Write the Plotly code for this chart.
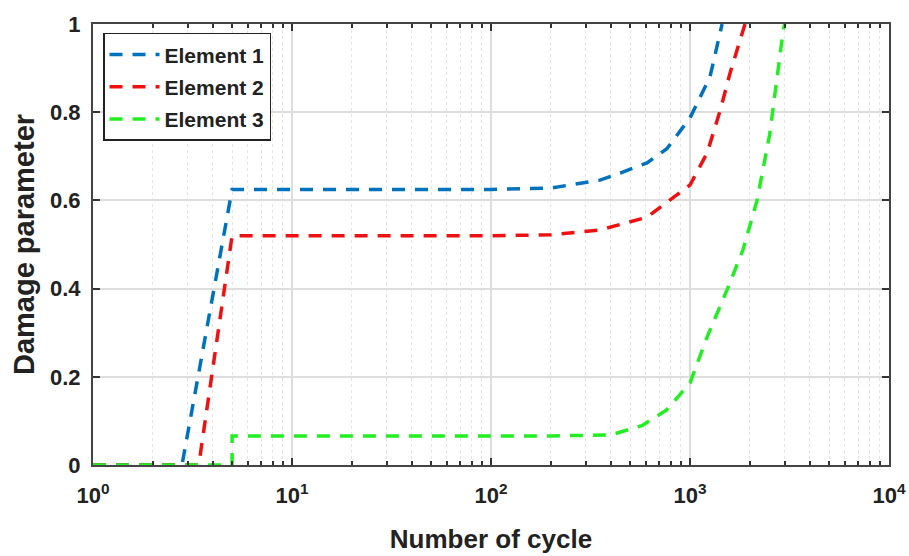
import plotly.graph_objects as go

# Damage evolution vs. number of loading cycles for three elements
cycles_e1 = [1, 2.8, 5, 10, 50, 100, 200, 353, 446, 608, 765, 1000, 1260, 1450]
damage_e1 = [0, 0, 0.625, 0.625, 0.625, 0.625, 0.628, 0.646, 0.662, 0.685, 0.717, 0.787, 0.88, 1.0]

cycles_e2 = [1, 3.4, 5, 10, 50, 100, 200, 353, 608, 794, 1000, 1218, 1420, 1590, 1890]
damage_e2 = [0, 0, 0.52, 0.52, 0.52, 0.52, 0.522, 0.533, 0.562, 0.60, 0.635, 0.707, 0.805, 0.889, 1.0]

cycles_e3 = [1, 5, 5, 10, 50, 100, 200, 400, 578, 763, 1000, 1218, 1535, 1846, 2172, 2515, 2950, 3000]
damage_e3 = [0, 0, 0.066, 0.066, 0.066, 0.066, 0.066, 0.068, 0.09, 0.125, 0.186, 0.29, 0.397, 0.488, 0.60, 0.75, 0.99, 1.0]

series_names = ["Element 1", "Element 2", "Element 3"]
series_colors = ["#0072BD", "#EE1111", "#22EE22"]

x_tick_vals = [1, 10, 100, 1000, 10000]
x_tick_text = ["10<sup>0</sup>", "10<sup>1</sup>", "10<sup>2</sup>", "10<sup>3</sup>", "10<sup>4</sup>"]
y_tick_vals = [0, 0.2, 0.4, 0.6, 0.8, 1.0]
y_tick_text = ["0", "0.2", "0.4", "0.6", "0.8", "1"]

FONT = "Liberation Sans, Arial, sans-serif"

fig = go.Figure()
for i, (xs, ys) in enumerate([(cycles_e1, damage_e1), (cycles_e2, damage_e2), (cycles_e3, damage_e3)]):
    fig.add_trace(go.Scatter(
        x=xs, y=ys, mode="lines", name=series_names[i],
        legendgroup=f"g{i}",
        line=dict(color=series_colors[i], width=3.5, dash="13px,10px"),
    ))

fig.update_layout(
    width=909, height=556,
    margin=dict(l=93, r=20, t=24, b=91, autoexpand=False),
    paper_bgcolor="white", plot_bgcolor="white",
    font=dict(family=FONT, color="#222222"),
    showlegend=True,
    legend=dict(
        x=0.0126, y=0.98, xanchor="left", yanchor="top",
        bgcolor="white", bordercolor="#222222", borderwidth=1.5,
        font=dict(family=FONT, size=21, weight="bold", color="#222222"),
        traceorder="grouped", tracegroupgap=2, itemwidth=50,
    ),
    xaxis=dict(
        type="log", range=[0, 4], automargin=False,
        tickmode="array", tickvals=x_tick_vals, ticktext=x_tick_text,
        tickfont=dict(family=FONT, size=22, weight="bold", color="#222222"),
        ticklabelstandoff=10,
        ticks="inside", ticklen=7, tickcolor="#333333", tickwidth=1.5,
        showline=True, linecolor="#444444", linewidth=2, mirror="ticks",
        showgrid=True, gridcolor="#dddddd", gridwidth=1.5,
        zeroline=False,
        minor=dict(dtick="D1", ticks="inside", ticklen=4, tickcolor="#333333",
                   showgrid=True, gridcolor="#e4e4e4", griddash="dot", gridwidth=1),
        title=dict(text="Number of cycle", standoff=22,
                   font=dict(family=FONT, size=26, weight="bold", color="#222222")),
    ),
    yaxis=dict(
        range=[0, 1], automargin=False,
        tickmode="array", tickvals=y_tick_vals, ticktext=y_tick_text,
        tickfont=dict(family=FONT, size=22, weight="bold", color="#222222"),
        ticklabelstandoff=6,
        ticks="inside", ticklen=7, tickcolor="#333333", tickwidth=1.5,
        showline=True, linecolor="#444444", linewidth=2, mirror="ticks",
        showgrid=True, gridcolor="#dddddd", gridwidth=1.5,
        zeroline=False,
        title=dict(text="Damage parameter", standoff=7,
                   font=dict(family=FONT, size=29, weight="bold", color="#222222")),
    ),
)

fig.write_html("out.html")
